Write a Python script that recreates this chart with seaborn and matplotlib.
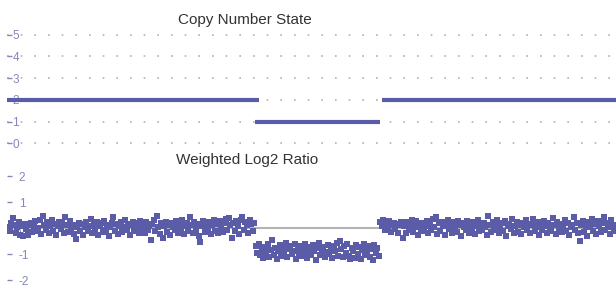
import numpy as np
import pandas as pd
import matplotlib
matplotlib.use("Agg")
import matplotlib.pyplot as plt
import seaborn as sns

# --------------------------
# Data
# --------------------------
# copy number segments, in probe index units
seg_start = [-1, 164.5, 249]
seg_end = [167, 248, 420]
seg_state = [2, 1, 2]

cn_ticks = [0, 1, 2, 3, 4, 5]
ratio_ticks = [-2, -1, 0, 1, 2]

# weighted log2 ratio per probe, left / middle / right of the loss
left_vals = [
    0.05, -0.12, 0.18, 0.40, 0.10, -0.20, 0.02, 0.22, -0.25, 0.08, -0.30, 0.15, -0.05, -0.28, 0.12,
    0.20, -0.15, 0.05, 0.28, -0.10, 0.00, 0.32, -0.22, 0.45, 0.12, -0.08, 0.25, -0.18, 0.06, 0.30,
    -0.12, 0.15, -0.25, 0.08, 0.22, -0.05, 0.18, -0.20, 0.42, 0.10, -0.15, 0.26, -0.02, 0.12, -0.22,
    -0.42, 0.05, 0.20, -0.10, 0.14, -0.28, 0.02, 0.24, -0.12, 0.08, 0.36, -0.18, 0.10, -0.05, 0.22,
    -0.25, 0.06, 0.18, -0.14, 0.28, -0.08, 0.12, -0.30, 0.04, 0.20, 0.42, -0.10, 0.15, -0.22, 0.08,
    0.25, -0.16, 0.02, 0.30, -0.06, 0.14, -0.26, 0.10, 0.22, -0.12, 0.05, 0.18, -0.20, 0.28, -0.04,
    0.12, -0.18, 0.24, -0.08, 0.06, -0.45, 0.16, 0.30, -0.10, 0.45, 0.02, -0.22, 0.20, -0.38, 0.08,
    0.22, -0.14, 0.10, -0.26, 0.18, 0.04, -0.08, 0.26, -0.18, 0.12, 0.00, 0.32, -0.22, 0.06, 0.20,
    -0.12, 0.42, 0.10, -0.20, 0.24, -0.06, 0.14, -0.30, -0.55, 0.08, 0.28, -0.16, 0.18, -0.04, 0.22,
    -0.24, 0.10, 0.30, -0.10, 0.16, -0.20, 0.26, 0.04, -0.14, 0.20, 0.34, -0.06, 0.40, 0.12, -0.38,
    0.18, -0.12, 0.28, 0.06, -0.22, 0.32, 0.42, -0.08, 0.22, 0.10, -0.18, 0.30, 0.14, -0.10, 0.20,
]
mid_vals = [
    -0.70, -0.95, -0.62, -1.05, -0.80, -1.15, -0.72, -0.98, -0.60, -1.10, -0.85, -0.45, -1.02, -0.75, -1.20,
    -0.88, -0.65, -1.08, -0.78, -0.95, -0.58, -1.12, -0.82, -0.70, -1.00, -0.90, -0.62, -1.18, -0.76, -0.96,
    -0.68, -1.06, -0.84, -0.60, -1.14, -0.92, -0.74, -1.02, -0.66, -0.88, -1.22, -0.78, -0.56, -1.04, -0.86,
    -0.72, -1.10, -0.94, -0.64, -1.00, -0.80, -1.16, -0.70, -0.90, -0.58, -1.08, -0.50, -0.82, -1.12, -0.68,
    -0.96, -0.62, -1.06, -1.20, -0.78, -0.88, -1.14, -0.66, -1.00, -0.74, -1.18, -0.84, -0.60, -1.04, -0.92,
    -0.70, -1.12, -0.82, -1.24, -0.64, -0.98, -0.76, -1.08,
]
right_vals = [
    0.22, 0.08, 0.30, -0.06, 0.18, 0.02, 0.26, -0.14, 0.12, 0.20, -0.04, 0.16, -0.18, 0.10, 0.24,
    -0.40, 0.06, -0.20, 0.22, -0.08, 0.14, 0.30, -0.16, 0.04, 0.26, -0.26, 0.12, -0.02, 0.20, -0.12,
    0.08, 0.28, -0.18, 0.16, -0.06, 0.34, 0.02, 0.42, -0.22, 0.18, -0.10, 0.24, 0.06, -0.28, 0.14,
    0.30, -0.04, 0.12, -0.20, 0.22, 0.00, -0.14, 0.26, 0.10, -0.30, 0.18, 0.04, -0.08, 0.28, -0.18,
    0.14, -0.02, 0.24, -0.24, 0.08, 0.32, -0.10, 0.16, -0.06, 0.20, 0.02, -0.26, 0.45, 0.12, -0.16,
    0.22, -0.08, 0.10, 0.30, -0.20, 0.04, 0.18, -0.12, 0.26, -0.30, 0.08, 0.14, -0.04, 0.34, -0.18,
    0.06, 0.24, -0.14, 0.12, -0.24, 0.20, 0.02, 0.30, -0.08, 0.16, -0.20, 0.10, 0.36, -0.12, 0.04,
    0.22, -0.28, 0.14, -0.06, 0.28, 0.08, -0.18, 0.18, 0.00, -0.12, 0.40, 0.10, -0.24, 0.24, -0.04,
    0.16, -0.16, 0.06, 0.32, -0.10, 0.20, -0.26, 0.12, 0.04, 0.42, -0.08, 0.18, -0.20, -0.50, 0.10,
    0.26, -0.14, 0.08, -0.30, 0.22, 0.02, 0.34, -0.10, 0.14, -0.22, 0.28, 0.06, -0.16, 0.18, 0.42,
    -0.08, 0.20, 0.04, -0.24, 0.30, 0.10, -0.12,
]

BLUE = '#5a5ca8'
TICK = '#8487b8'
GRID = '#b0b0b0'

sns.set_style('white')
plt.rcParams['font.family'] = ['Liberation Sans', 'DejaVu Sans']

W, H = 616, 286
fig = plt.figure(figsize=(W / 100, H / 100), dpi=100)
fig.patch.set_facecolor('white')

def px_axes(left, top, right, bottom):
    return fig.add_axes([left / W, 1 - bottom / H, (right - left) / W, (bottom - top) / H])

ax_top = px_axes(7, 25, 616, 150)
ax_bot = px_axes(7, 150, 616, 286)

# probe index -> x position
ratio_vals = left_vals + mid_vals + right_vals
probes = pd.DataFrame({'probe': np.arange(len(ratio_vals)), 'ratio': ratio_vals})

segs = pd.DataFrame({
    'seg': [0, 0, 1, 1, 2, 2],
    'pos': [seg_start[0], seg_end[0], seg_start[1], seg_end[1], seg_start[2], seg_end[2]],
    'state': [seg_state[0], seg_state[0], seg_state[1], seg_state[1], seg_state[2], seg_state[2]],
})

xlim = (-0.67, 405.33)

# --------------------------
# Copy number state
# --------------------------
ax_top.set_axisbelow(True)
ax_top.grid(axis='y', color=GRID, linewidth=1.2, linestyle=(0, (1, 7.2)))
ax_top.grid(axis='x', visible=False)
sns.lineplot(data=segs, x='pos', y='state', units='seg', estimator=None, sort=False,
             color=BLUE, linewidth=3.0, ax=ax_top, solid_capstyle='butt')
ax_top.set_xlim(*xlim)
ax_top.set_ylim(-0.3, 5.44)
ax_top.set_yticks(cn_ticks)
ax_top.set_yticklabels([str(t) for t in cn_ticks])

# --------------------------
# Weighted log2 ratio
# --------------------------
ax_bot.set_axisbelow(True)
ax_bot.grid(False)
ax_bot.axhline(0, color='#b4b4b4', linewidth=1.5, zorder=0.8)
sns.scatterplot(data=probes, x='probe', y='ratio', marker='s', s=19, linewidth=0,
                color=BLUE, ax=ax_bot, zorder=2)
ax_bot.set_xlim(*xlim)
ax_bot.set_ylim(-2.23, 3.0)
ax_bot.set_yticks(ratio_ticks)
ax_bot.set_yticklabels([str(t) for t in ratio_ticks])

for ax, pad in [(ax_top, -3.8), (ax_bot, -8.5)]:
    ax.set_xlabel('')
    ax.set_ylabel('')
    ax.set_xticks([])
    for s in ax.spines.values():
        s.set_visible(False)
    ax.patch.set_alpha(0)
    ax.tick_params(axis='y', direction='in', length=3.5, width=1, color=TICK,
                   labelcolor=TICK, labelsize=8.5, pad=pad, left=True)
    for lab in ax.get_yticklabels():
        lab.set_horizontalalignment('left')

fig.text(178 / W, 1 - 24 / H, 'Copy Number State', fontsize=11, color='#333333',
         ha='left', va='baseline')
fig.text(176 / W, 1 - 164 / H, 'Weighted Log2 Ratio', fontsize=11, color='#333333',
         ha='left', va='baseline')

fig.savefig('out.png', dpi=100, facecolor='white')
